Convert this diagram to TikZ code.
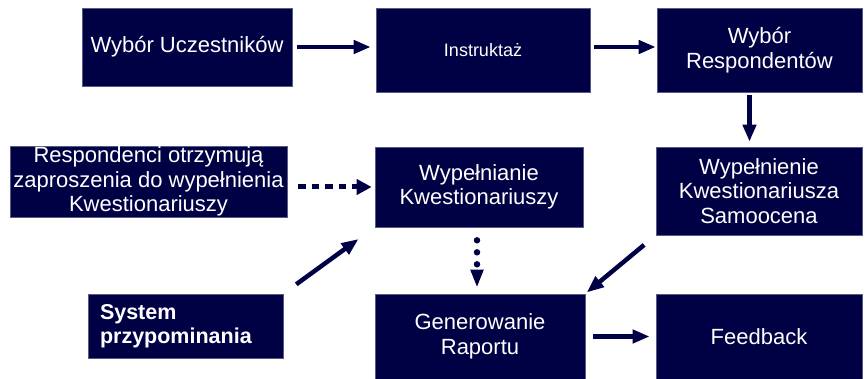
\documentclass[tikz,border=0pt]{standalone}
\usepackage{fontspec}
\setmainfont{Liberation Sans}
\usetikzlibrary{arrows.meta}
\definecolor{granat}{RGB}{0,0,68}

\begin{document}
\begin{tikzpicture}[x=1pt, y=-1pt, block/.style = {rectangle, fill=granat, draw=granat!65!white, line width=0.6pt, text=white, align=center, inner sep=0pt, font=\fontsize{22}{24.5}\selectfont}, line/.style = {draw=granat, line width=4.5pt, -{Triangle[length=17pt,width=13pt]}}, squareline/.style = {draw=granat, line width=5pt, dash pattern=on 7.5pt off 6pt, -{Triangle[length=15pt,width=15pt]}}, dotline/.style = {draw=granat, line width=6.5pt, line cap=round, dash pattern=on 0pt off 12pt, -{Triangle[length=18pt,width=12pt]}}]
			\useasboundingbox (0,0) rectangle (868,379);
			\node[block, minimum width=210pt, minimum height=78pt] (uczest) at (187,47) {Wybór Uczestników};
			\node[block, minimum width=214pt, minimum height=84pt, font=\fontsize{18}{21}\selectfont] (instr) at (483,50) {Instruktaż};
			\node[block, minimum width=205pt, minimum height=84pt] (resp) at (759.5,50) {Wybór\\Respondentów};
			\node[block, minimum width=277pt, minimum height=71pt] (zapro) at (148.5,181.5) {Respondenci otrzymują\\zaproszenia do wypełnienia\\Kwestionariuszy};
			\node[block, minimum width=208pt, minimum height=80pt] (wypel) at (479,187) {Wypełnianie\\Kwestionariuszy};
			\node[block, minimum width=206pt, minimum height=88pt] (samo) at (759,191) {Wypełnienie\\Kwestionariusza\\Samoocena};
			\node[block, align=left, text width=171pt, inner xsep=12pt, minimum height=64pt, font=\fontsize{21.5}{24}\selectfont\bfseries] (system) at (185.5,326) {System\\przypominania};
			\node[block, minimum width=210pt, minimum height=85pt] (raport) at (480,336.5) {Generowanie\\Raportu};
			\node[block, minimum width=206pt, minimum height=85pt] (feedback) at (759,336.5) {Feedback};

			\path[line, shorten <=5pt, shorten >=5pt] (uczest.east) -- (uczest.east -| instr.west);
			\path[line, shorten <=4pt, shorten >=1pt] (instr.east |- uczest) -- (uczest -| resp.west);
			\path[line, shorten <=3pt, shorten >=5pt] ([xshift=-10pt]resp.south) -- ([xshift=-10pt]resp.south |- samo.north);
			\path[squareline, shorten <=11pt, shorten >=3pt] (zapro.east |- wypel) -- (wypel.west);
			\path[dotline, shorten <=13pt, shorten >=6pt] ([xshift=-2pt]wypel.south) -- ([xshift=-2pt]wypel.south |- raport.north);
			\path[line, shorten <=16pt, shorten >=20pt] (system.north east) -- (wypel.south west);
			\path[line, shorten <=15pt, shorten >=2pt] (samo.south west) -- (raport.north east);
			\path[line, shorten <=8pt, shorten >=6pt] (raport.east) -- (feedback.west);
\end{tikzpicture}
\end{document}
